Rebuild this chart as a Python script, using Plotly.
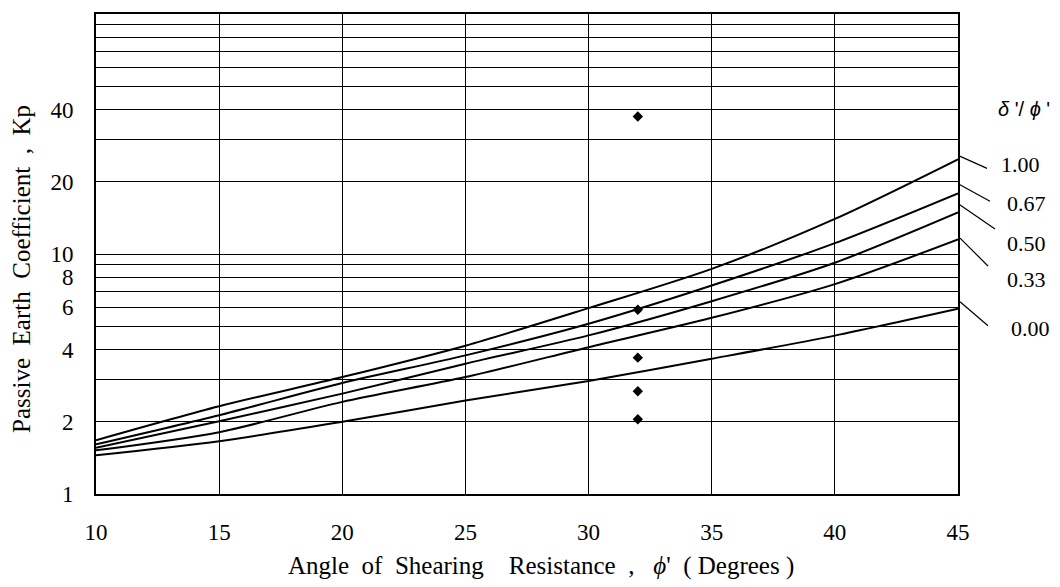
import plotly.graph_objects as go

phi = [10, 15, 20, 25, 30, 35, 40, 45]
kp_100 = [1.675, 2.32, 3.07, 4.15, 5.95, 8.67, 14.0, 24.8]
kp_067 = [1.61, 2.13, 2.90, 3.78, 5.12, 7.39, 11.1, 17.9]
kp_050 = [1.56, 2.01, 2.62, 3.49, 4.58, 6.36, 9.2, 14.9]
kp_033 = [1.52, 1.81, 2.42, 3.07, 4.09, 5.42, 7.49, 11.5]
kp_000 = [1.45, 1.66, 2.00, 2.45, 2.96, 3.66, 4.57, 5.91]
series_names = ["1.00", "0.67", "0.50", "0.33", "0.00"]

dot_phi = [32, 32, 32, 32, 32]
dot_kp = [37.4, 5.86, 3.70, 2.68, 2.05]

y_grid = [1, 2, 3, 4, 5, 6, 7, 8, 9, 10, 20, 30, 40, 50, 60, 70, 80, 90]
y_labels = {1: "1", 2: "2", 4: "4", 6: "6", 8: "8", 10: "10", 20: "20", 40: "40"}
x_ticks = [10, 15, 20, 25, 30, 35, 40, 45]

SERIF = "Liberation Serif, Times New Roman, serif"
SANS = "Liberation Sans, Arial, sans-serif"
NB = "\u00a0"

fig = go.Figure()
for name, ys in zip(series_names, [kp_100, kp_067, kp_050, kp_033, kp_000]):
    fig.add_trace(go.Scatter(x=phi, y=ys, mode="lines", name=name,
                             line=dict(color="black", width=2, shape="spline", smoothing=0.8),
                             showlegend=False))
fig.add_trace(go.Scatter(x=dot_phi, y=dot_kp, mode="markers",
                         marker=dict(symbol="diamond", size=8, color="black"),
                         showlegend=False))

L, R, T, B = 96, 958, 12, 494
W, H = 1060, 587

def px(xp):
    return (xp - L) / (R - L)

def py(yp):
    return (B - yp) / (B - T)

leaders = [((958, 154), (987, 167)), ((959, 183), (990, 200)), ((959, 203), (995, 228)),
           ((960, 237), (988, 265)), ((960, 301), (988, 325))]
label_pos = [(1021, 163), (1026, 202), (1026, 242), (1026, 279), (1030, 328)]

shapes = []
for (a, b) in leaders:
    shapes.append(dict(type="line", xref="paper", yref="paper",
                       x0=px(a[0]), y0=py(a[1]), x1=px(b[0]), y1=py(b[1]),
                       line=dict(color="black", width=1.2)))

annotations = []
for name, (lx, ly) in zip(series_names, label_pos):
    annotations.append(dict(x=px(lx), y=py(ly), xref="paper", yref="paper", text=name,
                            showarrow=False, xanchor="center", yanchor="middle",
                            font=dict(family=SERIF, size=22, color="black")))
annotations.append(dict(x=px(1024), y=py(107), xref="paper", yref="paper",
                        text="<i>δ</i>" + NB + "'/" + NB + "<i>ϕ</i>" + NB + "'", showarrow=False,
                        xanchor="center", yanchor="middle",
                        font=dict(family=SANS, size=20, color="black")))

sp2 = NB * 2
x_title = ("Angle" + sp2 + "of" + sp2 + "Shearing" + NB * 4 + "Resistance" + sp2 + "," + NB * 3
           + "<i>ϕ</i>'" + NB * 2 + "(" + NB + "Degrees" + NB + ")")
y_title = ("Passive" + sp2 + "Earth" + sp2 + "Coefficient" + sp2 + "," + sp2 + "Kp")
annotations.append(dict(x=px(541), y=py(566), xref="paper", yref="paper", text=x_title,
                        showarrow=False, xanchor="center", yanchor="middle",
                        font=dict(family=SERIF, size=25, color="black")))
annotations.append(dict(x=px(22), y=py(268), xref="paper", yref="paper", text=y_title,
                        showarrow=False, xanchor="center", yanchor="middle", textangle=-90,
                        font=dict(family=SERIF, size=25, color="black")))

fig.update_layout(
    width=W, height=H,
    margin=dict(l=L, r=W - R, t=T, b=H - B, pad=0),
    plot_bgcolor="white", paper_bgcolor="white",
    shapes=shapes, annotations=annotations,
    font=dict(family=SERIF, color="black"),
)
fig.update_xaxes(range=[10, 45], tickvals=x_ticks, showgrid=True, gridcolor="black", gridwidth=1.3,
                 showline=True, linecolor="black", linewidth=1.8, mirror=True, zeroline=False,
                 ticks="", ticklabelstandoff=16, tickfont=dict(family=SERIF, size=23))
fig.update_yaxes(type="log", range=[0, 2], tickvals=y_grid,
                 ticktext=[y_labels.get(v, "") for v in y_grid],
                 showgrid=True, gridcolor="black", gridwidth=1.3,
                 showline=True, linecolor="black", linewidth=1.8, mirror=True, zeroline=False,
                 ticks="", ticklabelstandoff=16, tickfont=dict(family=SERIF, size=23))

fig.write_html("out.html")
